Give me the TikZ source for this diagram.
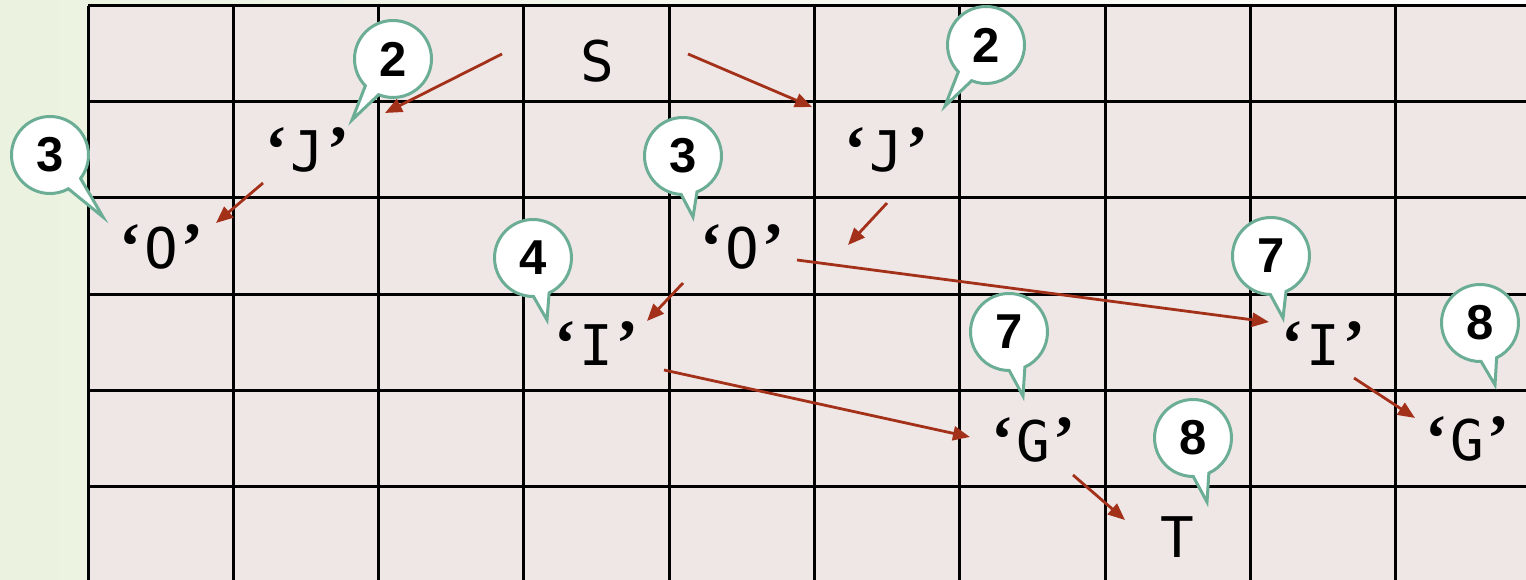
\documentclass[tikz,border=0pt]{standalone}
\usepackage{fontspec}
\usetikzlibrary{arrows.meta,shapes.callouts}
\newfontfamily\cellfont{DejaVu Sans Mono}
\newfontfamily\quotefont{Liberation Serif}
\newfontfamily\countfont{Liberation Sans}
\definecolor{cell-bg}{HTML}{EFE7E6}
\definecolor{side-bg}{HTML}{EBF2DF}
\definecolor{edge-red}{HTML}{A3311A}
\definecolor{bubble-green}{HTML}{6BAE95}
\newcommand{\quoted}[1]{\makebox[31pt]{\quotefont\bfseries\fontsize{66}{66}\selectfont ‘}%
  \makebox[31pt]{#1}\makebox[31pt]{\quotefont\bfseries\fontsize{66}{66}\selectfont ’}}

\begin{document}
\begin{tikzpicture}[x=1pt, y=-1pt,
    every node/.style={inner sep=0pt},
    letter/.style={anchor=base, font=\cellfont\fontsize{56}{56}\selectfont},
    move/.style={-{Triangle[length=17pt,width=14pt]}, line width=2.8pt, color=edge-red},
    bubble/.style={ellipse callout, draw=bubble-green, line width=3pt, fill=white,
      minimum width=77pt, minimum height=77pt, callout pointer arc=24,
      font=\countfont\bfseries\fontsize{49}{49}\selectfont}]
    \useasboundingbox (0,0) rectangle (1526,580);
    \shade[left color=side-bg, right color=white] (0,0) rectangle (1526,580);
    % board
    \fill[cell-bg] (88,6) rectangle (1526,580);
    \foreach \i in {0,...,9}
      \draw[line width=3pt] ({88+145.3*\i},6) -- ({88+145.3*\i},580);
    \foreach \j in {0,...,5}
      \draw[line width=3pt] (88,{6+96*\j}) -- (1526,{6+96*\j});
    % letters on the board
    \node[letter] (s) at (597,82) {S};
    \node[letter] (j1) at (307,172) {\quoted{J}};
    \node[letter] (o1) at (161,269) {\quoted{O}};
    \node[letter] (j2) at (886,172) {\quoted{J}};
    \node[letter] (o2) at (742,269) {\quoted{O}};
    \node[letter] (i1) at (596,365) {\quoted{I}};
    \node[letter] (i2) at (1323,365) {\quoted{I}};
    \node[letter] (g1) at (1033,461) {\quoted{G}};
    \node[letter] (g2) at (1467,460) {\quoted{G}};
    \node[letter] (t) at (1177,557) {T};
    % moves
    \draw[move] ([shift={(-95,-28)}]s.base) -- ([shift={(78,-59)}]j1.base);
    \draw[move] ([shift={(91,-28)}]s.base) -- ([shift={(-74,-65)}]j2.base);
    \draw[move] ([shift={(-44,11)}]j1.base) -- ([shift={(55,-46)}]o1.base);
    \draw[move] ([shift={(1,31)}]j2.base) -- ([shift={(106,-24)}]o2.base);
    \draw[move] ([shift={(-59,14)}]o2.base) -- ([shift={(51,-44)}]i1.base);
    \draw[move] ([shift={(55,-9)}]o2.base) -- ([shift={(-54,-43)}]i2.base);
    \draw[move] ([shift={(68,5)}]i1.base) -- ([shift={(-63,-24)}]g1.base);
    \draw[move] ([shift={(31,13)}]i2.base) -- ([shift={(-52,-42)}]g2.base);
    \draw[move] ([shift={(40,14)}]g1.base) -- ([shift={(-52,-37)}]t.base);
    % step counts
    \node[bubble, callout absolute pointer={(352,120)}] (n1) at (393,59) {2};
    \node[bubble, callout absolute pointer={(103,217)}] (n2) at (50,155) {3};
    \node[bubble, callout absolute pointer={(945,106)}] (n3) at (986,45) {2};
    \node[bubble, callout absolute pointer={(693,217)}] (n4) at (683,156) {3};
    \node[bubble, callout absolute pointer={(547,320)}] (n5) at (533,258) {4};
    \node[bubble, callout absolute pointer={(1283,318)}] (n6) at (1271,256) {7};
    \node[bubble, callout absolute pointer={(1495,385)}] (n7) at (1480,323) {8};
    \node[bubble, callout absolute pointer={(1023,396)}] (n8) at (1009,332) {7};
    \node[bubble, callout absolute pointer={(1207,502)}] (n9) at (1193,438) {8};
  \end{tikzpicture}
\end{document}
